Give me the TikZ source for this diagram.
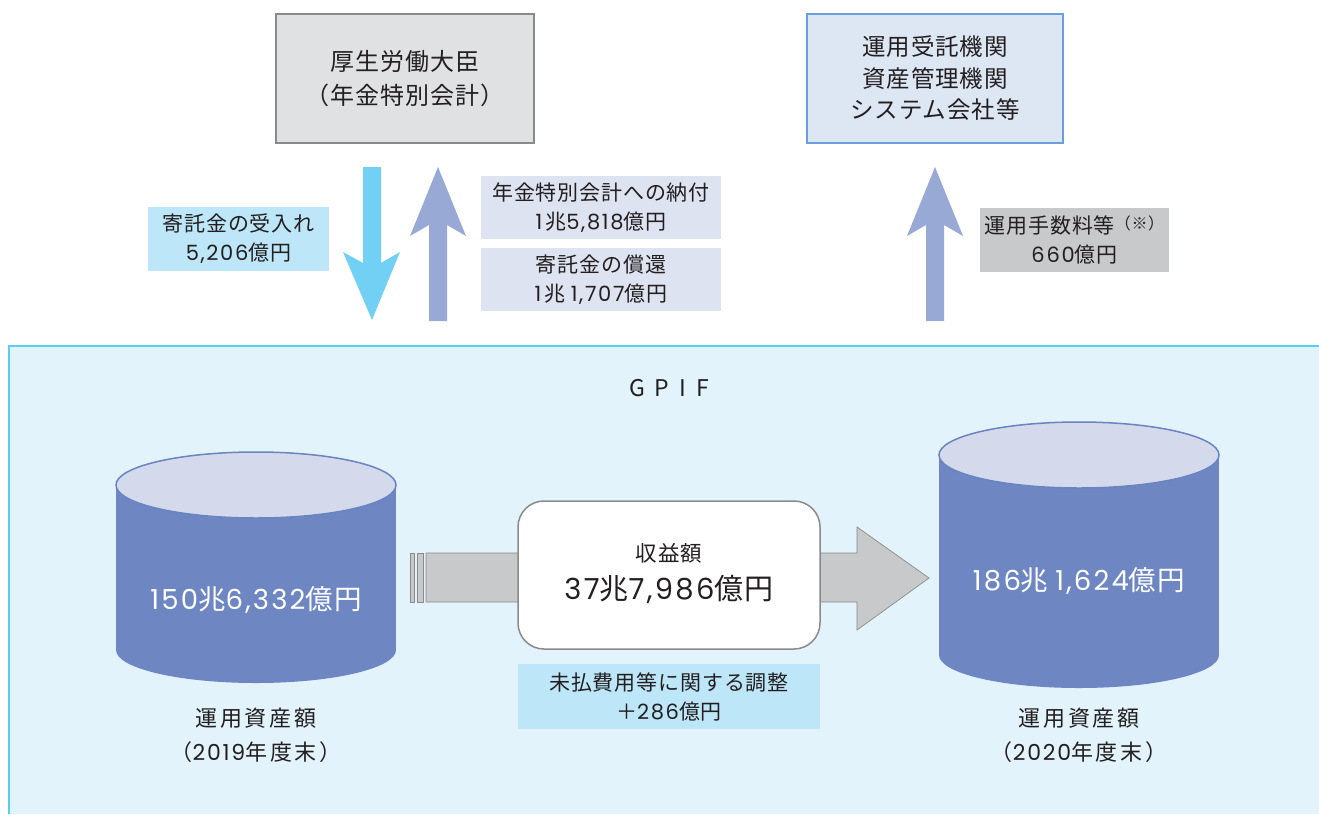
\documentclass[tikz,border=0pt]{standalone}
\usepackage{fontspec}
\setmainfont[LetterSpace=4]{Noto Sans CJK JP}
\newfontfamily\trk[LetterSpace=12]{Noto Sans CJK JP}
\newfontfamily\numf[LetterSpace=8]{Poppins}
\newcommand\nm[1]{{\numf #1}}
\newcommand\one{{\numf 1}\hspace{0.15em}}
\newcommand\lead{\hspace{0.25em}}
\definecolor{txt}{HTML}{231F20}
\definecolor{panelfill}{HTML}{E2F3FB}
\definecolor{panelline}{HTML}{5BCDF0}
\definecolor{graybox}{HTML}{E0E1E3}
\definecolor{grayline}{HTML}{8A8A8A}
\definecolor{bluebox}{HTML}{DDE6F3}
\definecolor{blueline}{HTML}{6A9FDC}
\definecolor{cyanarrow}{HTML}{72D0F5}
\definecolor{bluearrow}{HTML}{99A9D6}
\definecolor{cyanlabel}{HTML}{BDE6F8}
\definecolor{bluelabel}{HTML}{DDE3F0}
\definecolor{graylabel}{HTML}{C8C9CB}
\definecolor{cylbody}{HTML}{6E87C3}
\definecolor{cyltop}{HTML}{D4DAEC}
\definecolor{cylline}{HTML}{6A84C2}
\definecolor{harrow}{HTML}{C8C9CA}
\begin{document}
\begin{tikzpicture}[x=1pt,y=-1pt,
  every node/.style={text=txt, inner sep=0pt, outer sep=0pt},
  topbox/.style={draw, line width=1.5pt, minimum width=258pt, minimum height=129pt, align=center},
  lbl/.style={minimum height=64pt, align=center, font=\fontsize{21}{29}\selectfont},
  cyltext/.style={text=white, font=\fontsize{27.5}{30}\selectfont},
  undertext/.style={align=center, font=\trk\fontsize{22}{34}\selectfont},
]
\useasboundingbox (0,0) rectangle (1319,814);
% panel
\fill[panelfill] (9,346) rectangle (1319,814);
\draw[panelline, line width=2.2pt] (1319,346) -- (9,346) -- (9,814);
\node[font=\fontsize{23}{26}\selectfont] (gpif) at (669,388) {G\hspace{10pt}P\hspace{10pt}I\hspace{10pt}F};

% top boxes
\node[topbox, fill=graybox, draw=grayline, font=\fontsize{24}{34}\selectfont] (mhlw) at (405,78.5) {厚生労働大臣\\（年金特別会計）};
\node[topbox, fill=bluebox, draw=blueline, minimum width=256pt, font=\fontsize{23.5}{31.5}\selectfont] (inst) at (935,78.5) {運用受託機関\\資産管理機関\\システム会社等};

% vertical block arrows
\coordinate (dtop) at (372,167);
\coordinate (dtip) at (372,320);
\fill[cyanarrow] (363,167) -- (381,167) -- (381,263) -- (400,252) -- (dtip) -- (343,252) -- (363,263) -- cycle;
\coordinate (u1tip) at (438,167);
\fill[bluearrow] (429,321) -- (429,225) -- (410,236) -- (u1tip) -- (466,236) -- (447,225) -- (447,321) -- cycle;
\coordinate (u2tip) at (935,167);
\fill[bluearrow] (926,321) -- (926,225) -- (907,236) -- (u2tip) -- (963,236) -- (944,225) -- (944,321) -- cycle;

% labels
\node[lbl, fill=cyanlabel, minimum width=181pt] (recv) at (238.5,239) {寄託金の受入れ\\\nm{5,206}億円};
\node[lbl, fill=bluelabel, minimum width=240pt, minimum height=63pt] (pay) at (601,207.5) {年金特別会計への納付\\\one 兆\nm{5,818}億円};
\node[lbl, fill=bluelabel, minimum width=240pt, minimum height=63pt] (repay) at (601,279.5) {寄託金の償還\\\one 兆\lead\nm{1,707}億円};
\node[lbl, fill=graylabel, minimum width=189pt] (fee) at (1074.5,240) {運用手数料等{\fontsize{16}{16}\selectfont\raisebox{4pt}{（※）}}\\\nm{660}億円};

% horizontal block arrow
\fill[harrow, draw=grayline, line width=0.7pt] (410,553) rectangle (414,602);
\fill[harrow, draw=grayline, line width=0.7pt] (417,553) rectangle (423,602);
\coordinate (htail) at (426,578);
\coordinate (htip) at (929,578);
\filldraw[fill=harrow, draw=grayline, line width=0.7pt] (426,553) -- (857,553) -- (857,527) -- (htip) -- (857,630) -- (857,602) -- (426,602) -- cycle;

% income box
\node[draw=grayline, fill=white, line width=1.5pt, rounded corners=26pt, minimum width=302pt, minimum height=148pt] (inc) at (669,575) {};
\node[font=\fontsize{21.5}{24}\selectfont] (inclbl) at (669,553) {収益額};
\node[font=\fontsize{29}{30}\selectfont] (incval) at (669,589) {\nm{37}兆\nm{7,986}億円};

% adjustment label
\node[lbl, fill=cyanlabel, minimum width=302pt, minimum height=65pt] (adj) at (669,696.5) {未払費用等に関する調整\\＋\nm{286}億円};

% left cylinder
\fill[cylbody] (116,485) rectangle (396,650);
\fill[cylbody] (256,650) ellipse [x radius=140, y radius=33];
\filldraw[fill=cyltop, draw=cylline, line width=1.5pt] (256,485) ellipse [x radius=140, y radius=33];
\node[cyltext] (v2019) at (256,600) {\nm{150}兆\nm{6,332}億円};
\node[undertext] (l2019) at (256,735) {運用資産額\\（\nm{2019}年度末）};

% right cylinder
\fill[cylbody] (939,455) rectangle (1219,655);
\fill[cylbody] (1079,655) ellipse [x radius=140, y radius=33];
\filldraw[fill=cyltop, draw=cylline, line width=1.5pt] (1079,455) ellipse [x radius=140, y radius=33];
\node[cyltext] (v2020) at (1079,581) {\nm{186}兆\lead\nm{1,624}億円};
\node[undertext] (l2020) at (1079,735) {運用資産額\\（\nm{2020}年度末）};
\end{tikzpicture}
\end{document}
